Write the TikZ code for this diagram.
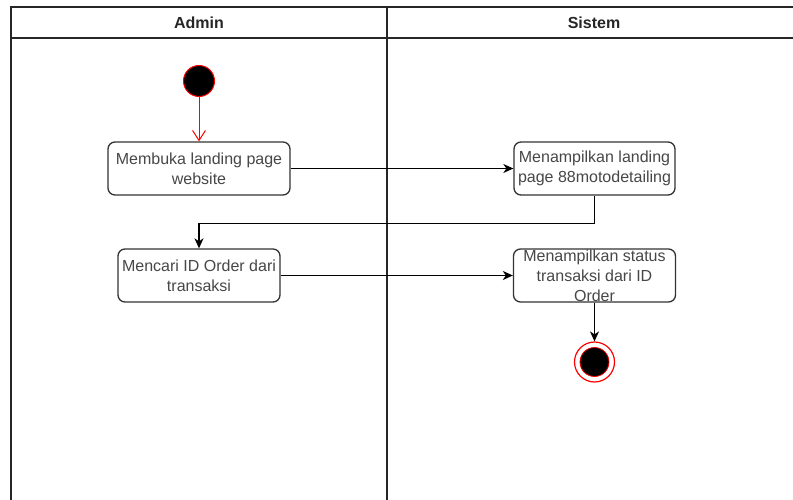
\documentclass[tikz,border=0pt]{standalone}
\usepackage{fontspec}
\setmainfont{Liberation Sans}
\usetikzlibrary{arrows.meta}
\begin{document}
\begin{tikzpicture}[x=1pt,y=-1pt,
  act/.style={draw=black!80, line width=1.3pt, rounded corners=7pt, fill=white, inner sep=0pt},
  boxtext/.style={align=center, font=\fontsize{16}{20}\selectfont, text=black!72, inner sep=0pt},
  flow/.style={draw=black, line width=1.3pt, -{Stealth[length=10pt,width=9pt,inset=3pt]}},
  lane/.style={draw=black!85, line width=1.6pt},
  hdr/.style={font=\bfseries\fontsize{16}{20}\selectfont, text=black!85}]
\useasboundingbox (0,0) rectangle (793,500);
\fill[white] (0,0) rectangle (793,500);
% swimlanes
\draw[lane] (11,502) -- (11,7) -- (800,7);
\draw[lane] (11,38) -- (800,38);
\draw[lane] (387,7) -- (387,502);
\node[hdr] (hA) at (199,23) {Admin};
\node[hdr] (hS) at (594,23) {Sistem};
% start
\node[circle, fill=black, draw=red, line width=1pt, minimum size=31pt, inner sep=0pt] (start) at (199,81) {};
% activities
\node[act, minimum width=182pt, minimum height=53pt] (b1) at (199,168.5) {};
\node[boxtext] (t1) at (b1) {Membuka landing page\\website};
\node[act, minimum width=161pt, minimum height=53pt] (b2) at (594.5,168.5) {};
\node[boxtext] (t2) at (b2) {Menampilkan landing\\page 88motodetailing};
\node[act, minimum width=162pt, minimum height=53pt] (b3) at (199,275.5) {};
\node[boxtext] (t3) at (b3) {Mencari ID Order dari\\transaksi};
\node[act, minimum width=162pt, minimum height=53pt] (b4) at (594.5,275.5) {};
\node[boxtext] (t4) at (b4) {Menampilkan status\\transaksi dari ID\\Order};
% end
\node[circle, draw=red, line width=1.2pt, fill=white, minimum size=40pt, inner sep=0pt] (end) at (594.5,362) {};
\node[circle, fill=black, draw=red, line width=0.8pt, minimum size=29pt, inner sep=0pt] (endin) at (end) {};
% flows
\draw[red, line width=1pt, -{Straight Barb[length=10pt,width=13pt]}] (start) -- (b1);
\draw[flow] (b1) -- (b2);
\draw[flow] (b2.south) -- ++(0,27.5) -| (b3.north);
\draw[flow] (b3) -- (b4);
\draw[flow] (b4) -- (end);
\end{tikzpicture}
\end{document}
